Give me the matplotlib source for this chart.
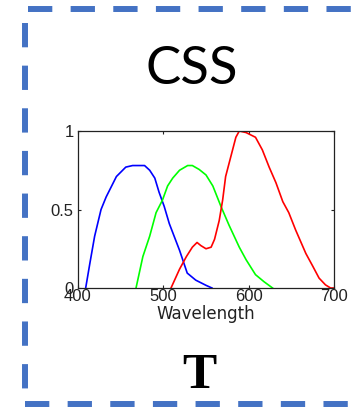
import matplotlib
matplotlib.use("Agg")
import matplotlib.pyplot as plt
from matplotlib.lines import Line2D

# Data
blue_x = [409, 414, 419.5, 427, 433, 445, 456, 464, 478, 484, 490, 495, 501, 507, 519, 528, 538, 550, 557]
blue_y = [0, 0.16, 0.33, 0.5, 0.58, 0.71, 0.77, 0.78, 0.78, 0.75, 0.70, 0.61, 0.52, 0.41, 0.24, 0.095, 0.05, 0.017, 0]
green_x = [468, 476, 484, 491.5, 499, 505, 511, 519, 528.5, 534, 542, 550, 558, 567.5, 577, 589, 597, 608, 618, 628]
green_y = [0, 0.2, 0.33, 0.48, 0.56, 0.65, 0.70, 0.75, 0.78, 0.78, 0.755, 0.72, 0.65, 0.52, 0.40, 0.26, 0.18, 0.085, 0.04, 0]
red_x = [509, 519, 527, 534, 539.5, 544, 550, 556, 560, 565.5, 569.5, 573, 579, 585, 589, 597, 608, 616, 624, 632, 640, 647, 655, 667, 675, 682.5, 690, 696, 700]
red_y = [0, 0.12, 0.2, 0.26, 0.29, 0.27, 0.25, 0.26, 0.31, 0.43, 0.56, 0.71, 0.835, 0.96, 1.0, 0.99, 0.96, 0.88, 0.77, 0.67, 0.55, 0.48, 0.37, 0.22, 0.14, 0.063, 0.02, 0, 0]
xticks = [400, 500, 600, 700]
yticks = [0, 0.5, 1]
ytick_labels = ["0", "0.5", "1"]
title_text = "CSS"
bottom_text = "T"
xlabel_text = "Wavelength"

W, H = 360, 409
fig = plt.figure(figsize=(W / 100, H / 100), dpi=100)
fig.patch.set_facecolor("white")

def fx(px):
    return px / W

def fy(py):
    return 1 - py / H

# Dashed border
border_kw = dict(color="#4472C4", linewidth=4.3, solid_capstyle="butt",
                 dash_capstyle="butt", linestyle=(0, (17.5 / 4.3, 13.2 / 4.3)),
                 transform=fig.transFigure)
fig.add_artist(Line2D([fx(28), fx(352)], [fy(9), fy(9)], **border_kw))
fig.add_artist(Line2D([fx(25), fx(25)], [fy(23), fy(389)], **border_kw))
fig.add_artist(Line2D([fx(25), fx(349)], [fy(404), fy(404)], **border_kw))

# Texts
fig.text(fx(192), fy(69), title_text, fontsize=38, family="Lato",
         ha="center", va="center", color="black")
fig.text(fx(199), fy(376), bottom_text, fontsize=37, family="Liberation Serif",
         fontweight="bold", ha="center", va="center", color="black")

# Axes
ax = fig.add_axes([fx(78), fy(288), (334 - 78) / W, (288 - 131) / H])
ax.plot(blue_x, blue_y, color="#0000ff", lw=1.2)
ax.plot(green_x, green_y, color="#00ff00", lw=1.2)
ax.plot(red_x, red_y, color="#ff0000", lw=1.2)
ax.set_xlim(400, 700)
ax.set_ylim(0, 1)
ax.set_xticks(xticks)
ax.set_yticks(yticks)
ax.set_yticklabels(ytick_labels)
ax.tick_params(direction="in", length=2.5, width=0.8, top=True, right=True,
               labelsize=12, colors="#222222")
ax.tick_params(axis="x", pad=1)
ax.tick_params(axis="y", pad=3)
for lab in ax.get_xticklabels() + ax.get_yticklabels():
    lab.set_family("Liberation Sans")
for s in ax.spines.values():
    s.set_linewidth(0.9)
    s.set_color("#222222")
ax.set_xlabel(xlabel_text, family="DejaVu Sans", fontsize=12, labelpad=0.5, color="#222222")

fig.savefig("out.png", dpi=100)
